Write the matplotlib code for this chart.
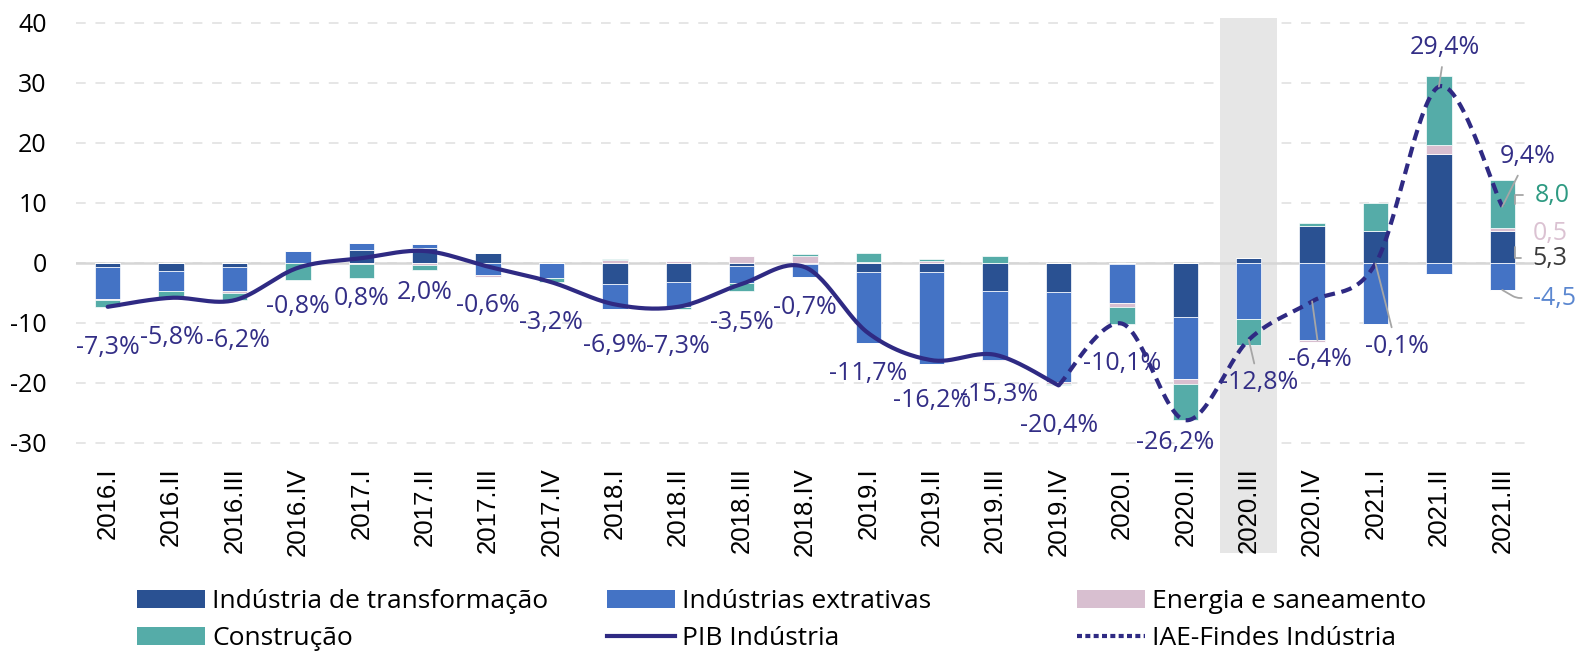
import numpy as np
import matplotlib
matplotlib.use("Agg")
import matplotlib.pyplot as plt
import matplotlib.transforms as mtransforms
from matplotlib.patches import Rectangle, Patch
from matplotlib.lines import Line2D

# ---------------- data ----------------
categories = ["2016.I", "2016.II", "2016.III", "2016.IV",
              "2017.I", "2017.II", "2017.III", "2017.IV",
              "2018.I", "2018.II", "2018.III", "2018.IV",
              "2019.I", "2019.II", "2019.III", "2019.IV",
              "2020.I", "2020.II", "2020.III", "2020.IV",
              "2021.I", "2021.II", "2021.III"]

transformacao = [-0.7, -1.3, -0.7, 0.0, 2.2, 2.5, 1.6, 0.0, -3.5, -3.1, -0.5, -0.1,
                 -1.5, -1.5, -4.6, -4.8, -0.2, -9.0, 0.8, 6.1, 5.4, 18.2, 5.3]
extrativas = [-5.3, -3.3, -3.9, 2.0, 1.1, 0.7, -2.0, -2.5, -4.1, -4.3, -2.9, -2.2,
              -11.8, -15.4, -11.6, -15.1, -6.4, -10.3, -9.3, -12.8, -10.1, -1.8, -4.5]
energia = [-0.1, -0.1, -0.4, 0.0, -0.2, -0.3, -0.3, 0.0, 0.5, 0.3, 1.2, 1.2,
           0.2, 0.3, -0.2, -0.3, -0.7, -0.9, 0.0, -0.4, 0.0, 1.4, 0.5]
construcao = [-1.2, -1.1, -1.1, -2.8, -2.3, -0.9, 0.0, -0.7, 0.2, -0.2, -1.3, 0.3,
              1.4, 0.4, 1.1, -0.2, -2.8, -6.0, -4.3, 0.6, 4.6, 11.5, 8.0]

pib = [-7.3, -5.8, -6.2, -0.8, 0.8, 2.0, -0.6, -3.2, -6.9, -7.3, -3.5, -0.7,
       -11.7, -16.2, -15.3, -20.4] + [np.nan] * 7
iae = [np.nan] * 15 + [-20.4, -10.1, -26.2, -12.8, -6.4, -0.1, 29.4, 9.4]

series_names = ["Indústria de transformação", "Indústrias extrativas",
                "Energia e saneamento", "Construção"]
line_names = ["PIB Indústria", "IAE-Findes Indústria"]
last_parts_labels = ["5,3", "-4,5", "0,5", "8,0"]
highlight_category = "2020.III"

# ---------------- style ----------------
C_TRANS = "#2a5192"
C_EXTR = "#4473c5"
C_ENER = "#d8bfd0"
C_CONS = "#55aca8"
C_LINE = "#2f2a83"
C_LABEL = "#332e86"
FONT = ["Open Sans", "DejaVu Sans"]
plt.rcParams["font.family"] = FONT


def smooth(xs, ys, n=30):
    """Excel-like Bezier smoothing of a polyline through the data points."""
    P = np.column_stack([xs, ys]).astype(float)
    out = []
    for i in range(len(P) - 1):
        p0 = P[i - 1] if i > 0 else P[i]
        p1, p2 = P[i], P[i + 1]
        p3 = P[i + 2] if i + 2 < len(P) else P[i + 1]
        c1 = p1 + (p2 - p0) / 6.0
        c2 = p2 - (p3 - p1) / 6.0
        t = np.linspace(0, 1, n)[:, None]
        seg = ((1 - t) ** 3) * p1 + 3 * ((1 - t) ** 2) * t * c1 + 3 * (1 - t) * t ** 2 * c2 + t ** 3 * p2
        out.append(seg if i == 0 else seg[1:])
    out = np.vstack(out)
    return out[:, 0], out[:, 1]


fig = plt.figure(figsize=(15.75, 6.52), dpi=100)
W, H = 1575, 652
ax = fig.add_axes([76 / W, 1 - 449 / H, (1534 - 76) / W, (449 - 20) / H])

x = np.arange(len(categories))
bw = 0.4

# highlight band (extends below into the tick labels)
hi = categories.index(highlight_category)
blend = mtransforms.blended_transform_factory(ax.transData, fig.transFigure)
ax.add_patch(Rectangle((hi - 0.45, 1 - 553 / H), 0.9, (553 - 18) / H,
                       transform=blend, facecolor="#e6e6e6", edgecolor="none",
                       clip_on=False, zorder=0))

# stacked bars (positives upward, negatives downward)
pos_base = np.zeros(len(x))
neg_base = np.zeros(len(x))
for vals, col in zip([transformacao, extrativas, energia, construcao],
                     [C_TRANS, C_EXTR, C_ENER, C_CONS]):
    v = np.array(vals, dtype=float)
    pos = np.where(v > 0, v, 0)
    neg = np.where(v < 0, v, 0)
    ax.bar(x, pos, bw, bottom=pos_base, color=col, edgecolor="white", linewidth=0.5, zorder=2)
    ax.bar(x, neg, bw, bottom=neg_base, color=col, edgecolor="white", linewidth=0.5, zorder=2)
    pos_base += pos
    neg_base += neg

# lines
pib_a = np.array(pib, dtype=float)
iae_a = np.array(iae, dtype=float)
m1 = ~np.isnan(pib_a)
sx, sy = smooth(x[m1], pib_a[m1])
ax.plot(sx, sy, color=C_LINE, lw=3.0, solid_capstyle="round", zorder=4)
m2 = ~np.isnan(iae_a)
sx, sy = smooth(x[m2], iae_a[m2])
ax.plot(sx, sy, color=C_LINE, lw=3.0, linestyle=(0, (2.6, 1.6)), zorder=4)


def fmt(v):
    return f"{v:.1f}".replace(".", ",") + "%"


# data labels of the lines (offsets in pixels)
pib_offsets = [(0, -41), (1, -40), (3, -40), (0, -39), (0, -40), (0, -41), (0, -39),
               (0, -40), (0, -41), (0, -40), (0, -39), (0, -40), (0, -40), (0, -40),
               (4, -40), (0, -40)]
for i in np.where(m1)[0]:
    dx, dy = pib_offsets[i]
    ax.annotate(fmt(pib_a[i]), (x[i], pib_a[i]), xytext=(dx, dy), textcoords="offset pixels",
                ha="center", va="center", fontsize=18, color=C_LABEL, zorder=6)

iae_offsets = {16: (0, -40, False), 17: (-10, -22, False), 18: (10, -43, True),
               19: (8, -58, True), 20: (21, -83, True), 21: (6, 39, True), 22: (25, 50, True)}
for i, (dx, dy, lead) in iae_offsets.items():
    kw = {}
    if lead:
        kw["arrowprops"] = dict(arrowstyle="-", color="#a6a6a6", lw=1.3, shrinkA=3, shrinkB=0)
    ax.annotate(fmt(iae_a[i]), (x[i], iae_a[i]), xytext=(dx, dy), textcoords="offset pixels",
                ha="center", va="center", fontsize=18, color=C_LABEL, zorder=6, **kw)

# component labels for the last quarter
li = len(categories) - 1
t_last, e_last, en_last, c_last = transformacao[li], extrativas[li], energia[li], construcao[li]
ax.annotate(last_parts_labels[3], (li + bw / 2, t_last + en_last + c_last / 2),
            xytext=(37, 9), textcoords="offset pixels", ha="center", va="center",
            fontsize=18, color="#2e9a82",
            arrowprops=dict(arrowstyle="-", color="#a6a6a6", lw=1.3, shrinkA=6, shrinkB=0,
                            connectionstyle="angle,angleA=0,angleB=90,rad=0"))
ax.annotate(last_parts_labels[2], (li + bw / 2, t_last + en_last / 2),
            xytext=(35, -4), textcoords="offset pixels", ha="center", va="center",
            fontsize=18, color="#dbc2d2")
ax.annotate(last_parts_labels[0], (li + bw / 2, t_last / 2),
            xytext=(35, -11), textcoords="offset pixels", ha="center", va="center",
            fontsize=18, color="#3a3a3a",
            arrowprops=dict(arrowstyle="-", color="#a6a6a6", lw=1.3, shrinkA=6, shrinkB=0,
                            connectionstyle="angle,angleA=0,angleB=90,rad=0"))
ax.annotate(last_parts_labels[1], (li, e_last),
            xytext=(52, -8), textcoords="offset pixels", ha="center", va="center",
            fontsize=18, color="#5b87d0",
            arrowprops=dict(arrowstyle="-", color="#a6a6a6", lw=1.3, shrinkA=6, shrinkB=0,
                            connectionstyle="angle,angleA=0,angleB=150,rad=4"))

# axes styling
ax.set_xlim(-0.5, len(categories) - 0.5)
ax.set_ylim(-31, 40.5)
ax.set_yticks(np.arange(-30, 41, 10))
ax.set_yticklabels([str(v) for v in range(-30, 41, 10)], fontsize=18)
ax.set_xticks(x)
ax.set_xticklabels(categories, rotation=90, fontsize=18.5,
                   family=["Liberation Sans", "DejaVu Sans"])
ax.tick_params(axis="y", length=0, pad=21)
ax.tick_params(axis="x", length=0, pad=13)
for s in ax.spines.values():
    s.set_visible(False)
ax.set_axisbelow(True)
ax.yaxis.grid(True, color="#e6e6e6", lw=1.4, linestyle=(0, (5, 5)))
ax.axhline(0, color="#d6d6d6", lw=1.8, zorder=1)
ax.set_facecolor("none")

# legend: three columns of two entries
h_trans = Patch(facecolor=C_TRANS)
h_extr = Patch(facecolor=C_EXTR)
h_ener = Patch(facecolor=C_ENER)
h_cons = Patch(facecolor=C_CONS)
h_pib = Line2D([], [], color=C_LINE, lw=3.0)
h_iae = Line2D([], [], color=C_LINE, lw=3.0, linestyle=(0, (1.2, 0.8)))
cols = [([h_trans, h_cons], [series_names[0], series_names[3]], 137),
        ([h_extr, h_pib], [series_names[1], line_names[0]], 607),
        ([h_ener, h_iae], [series_names[2], line_names[1]], 1077)]
for hs, ls, xpx in cols:
    fig.legend(hs, ls, loc="upper left", bbox_to_anchor=(xpx / W, 1 - 589 / H),
               frameon=False, fontsize=19, handlelength=2.58, handleheight=0.68,
               handletextpad=0.28, labelspacing=0.46, borderpad=0, borderaxespad=0)

fig.savefig("out.png", dpi=100, facecolor="white")
